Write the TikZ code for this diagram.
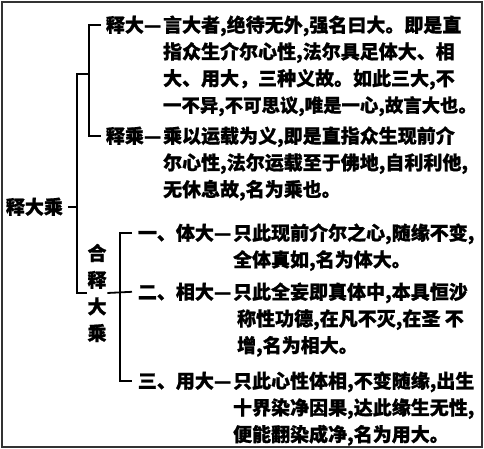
\documentclass[tikz,border=0pt]{standalone}
\usepackage{fontspec}
\setmainfont{Noto Sans CJK SC}[BoldFeatures={FakeBold=1}]
\newcommand{\hang}[1]{\begin{tabular}[t]{@{}l@{}}#1\end{tabular}}

\begin{document}
\begin{tikzpicture}[x=1pt, y=-1pt, line width=1.8pt,
	every node/.style={inner sep=0pt, font=\bfseries\fontsize{19}{26.7}\selectfont},
	lbl/.style={anchor=base west}]
	\useasboundingbox (0,0) rectangle (484,449);
	\draw[line width=2.4pt, black!80] (2,2) rectangle (482,447);
	
	\node (dasheng) at (5,214) [lbl] {释大乘};
	
	\node (shiDa) at (105,32) [lbl] {释大—};
	\node (shiDaText) at (shiDa.base east) [lbl] {\hang{言大者,绝待无外,强名曰大。即是直\\
		指众生介尔心性,法尔具足体大、相\\
		大、用大，三种义故。如此三大,不\\
		{\fontsize{18.4}{26.7}\selectfont 一不异,不可思议,唯是一心,故言大也。}}};
	
	\node (shiCheng) at (105,143) [lbl] {释乘—};
	\node (shiChengText) at (shiCheng.base east) [lbl] {\hang{乘以运载为义,即是直指众生现前介\\
		尔心性,法尔运载至于佛地,自利利他,\\
		无休息故,名为乘也。}};
	
	\node (heShi) at (97,293) [align=center] {合\\释\\大\\乘};
	
	\node (tiDa) at (137,240) [lbl] {一、体大—};
	\node (tiDaText) at (tiDa.base east) [lbl] {\hang{只此现前介尔之心,随缘不变,\\
		全体真如,名为体大。}};
	
	\node (xiangDa) at (137,299) [lbl] {二、相大—};
	\node (xiangDaText) at (xiangDa.base east) [lbl] {\hang{只此全妄即真体中,本具恒沙\\
		\hspace{4pt}称性功德,在凡不灭,在圣 不\\
		\hspace{4pt}增,名为相大。}};
	
	\node (yongDa) at (137,388) [lbl] {三、用大—};
	\node (yongDaText) at (yongDa.base east) [lbl] {\hang{只此心性体相,不变随缘,出生\\
		十界染净因果,达此缘生无性,\\
		便能翻染成净,名为用大。}};
	
	\coordinate (b0) at (77,214);
	\coordinate (b1) at (89,74);
	\coordinate (b2) at (120,293);
	
	\draw ([xshift=-4pt]shiDa.west) -| (b1) |- ([xshift=-4pt]shiCheng.west);
	\draw (b1) -| (b0 |- dasheng.east) |- (heShi.west);
	\draw ([xshift=4pt]dasheng.east) -- (b0 |- dasheng.east);
	\draw ([xshift=-5pt]tiDa.west) -| (b2) |- ([xshift=-5pt]yongDa.west);
	\draw (heShi.east) -- ([xshift=-5pt]xiangDa.west);
	
\end{tikzpicture}
\end{document}
